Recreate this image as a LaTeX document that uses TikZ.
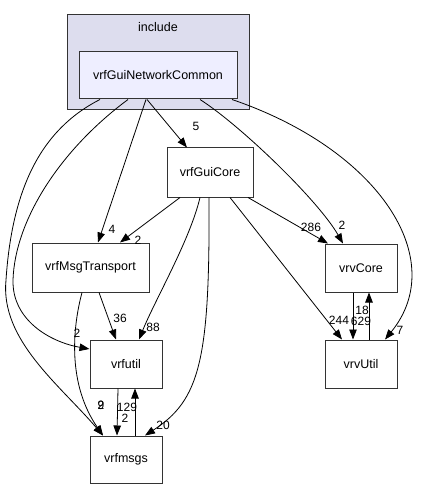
\documentclass[tikz,border=0pt]{standalone}
\usepackage{fontspec}
\setmainfont{Liberation Sans}
\usetikzlibrary{arrows.meta}
\begin{document}
\begin{tikzpicture}[x=1pt,y=-1pt,
  box/.style={draw=black!80,line width=1pt,fill=white,minimum height=48pt,inner sep=0pt,font=\fontsize{12.5}{14}\selectfont},
  lbl/.style={inner sep=0pt,font=\fontsize{12}{13}\selectfont},
  dep/.style={draw=black,line width=0.8pt,-{Triangle[length=10pt,width=7.5pt]}}]
\useasboundingbox (0,0) rectangle (420,489);
% cluster
\node[draw=black!80,line width=1pt,fill={rgb,255:red,221;green,221;blue,238},minimum width=182pt,minimum height=95pt,inner sep=0pt] (inc) at (158,62.5) {};
\node[inner sep=0pt,font=\fontsize{12.5}{14}\selectfont] (inclbl) at (158,27) {include};
\node[box,fill={rgb,255:red,238;green,238;blue,255},minimum width=158pt,minimum height=47pt] (nc) at (158,75.5) {vrfGuiNetworkCommon};
\node[box,minimum width=86pt,minimum height=49pt] (core) at (210,172.5) {vrfGuiCore};
\node[box,minimum width=117pt,minimum height=49pt] (msg) at (90.5,267.5) {vrfMsgTransport};
\node[box,minimum width=72pt] (vcore) at (361,268) {vrvCore};
\node[box,minimum width=72pt] (futil) at (126,364) {vrfutil};
\node[box,minimum width=72pt] (vutil) at (361,364) {vrvUtil};
\node[box,minimum width=72pt,minimum height=47pt] (fmsgs) at (126,459.5) {vrfmsgs};
% edges
\draw[dep] ([xshift=-11pt]nc.south) -- ([xshift=-23pt]core.north);
\draw[dep] ([xshift=-12pt]nc.south) -- ([xshift=7.5pt]msg.north);
\draw[dep] ([xshift=42pt]nc.south) .. controls (240,125) and (318,200) .. ([xshift=-18pt]vcore.north);
\draw[dep] ([xshift=74pt]nc.south) .. controls (380,150) and (450,260) .. ([xshift=24pt]vutil.north);
\draw[dep] ([xshift=-30pt]nc.south) .. controls (60,150) and (15,220) .. (13,280) .. controls (12,320) and (50,342) .. ([yshift=15pt]futil.west);
\draw[dep] ([xshift=-58pt]nc.south) .. controls (40,130) and (12,190) .. (6,280) .. controls (0,340) and (60,385) .. ([xshift=-23pt]fmsgs.north);
\draw[dep] ([xshift=-30pt]core.south) -- ([xshift=29.5pt]msg.north);
\draw[dep] ([xshift=38pt]core.south) -- ([xshift=-33pt]vcore.north);
\draw[dep] ([xshift=-10pt]core.south) .. controls (190,240) and (155,300) .. ([xshift=13pt]futil.north);
\draw[dep] ([xshift=-1pt]core.south) .. controls (210,360) and (200,400) .. ([xshift=19pt]fmsgs.north);
\draw[dep] ([xshift=20pt]core.south) -- ([xshift=-19pt]vutil.north);
\draw[dep] ([xshift=8.5pt]msg.south) -- ([xshift=-10pt]futil.north);
\draw[dep] ([xshift=-8.5pt]msg.south) .. controls (72,330) and (68,385) .. ([xshift=-23pt]fmsgs.north);
\draw[dep] ([xshift=-8pt]futil.south) -- ([xshift=-9pt]fmsgs.north);
\draw[dep] ([xshift=9pt]fmsgs.north) -- ([xshift=9pt]futil.south);
\draw[dep] ([xshift=-8pt]vcore.south) -- ([xshift=-8pt]vutil.north);
\draw[dep] ([xshift=8pt]vutil.north) -- ([xshift=8pt]vcore.south);
% labels
\node[lbl] (l1) at (196,126) {5};
\node[lbl] (l2) at (112,229) {4};
\node[lbl] (l3) at (342,225) {2};
\node[lbl] (l4) at (400,330) {7};
\node[lbl] (l5) at (77,333) {2};
\node[lbl] (l6) at (101,405) {9};
\node[lbl] (l7) at (101,405) {2};
\node[lbl] (l8) at (138,240) {2};
\node[lbl] (l9) at (311,227) {286};
\node[lbl] (l10) at (153,327) {88};
\node[lbl] (l11) at (163,425) {20};
\node[lbl] (l12) at (339,320) {244};
\node[lbl] (l13) at (120,318) {36};
\node[lbl] (l14) at (125,418) {2};
\node[lbl] (l15) at (127,407) {129};
\node[lbl] (l16) at (361,321) {629};
\node[lbl] (l17) at (362,310) {18};
\end{tikzpicture}
\end{document}
